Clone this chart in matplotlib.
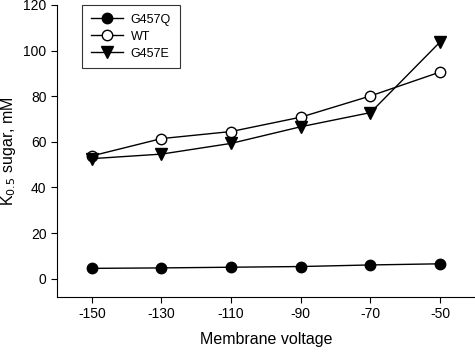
import matplotlib
matplotlib.use("Agg")
import matplotlib.pyplot as plt

plt.rcParams['font.family'] = ['Liberation Sans', 'DejaVu Sans']
plt.rcParams['axes.unicode_minus'] = False

voltage = [-150, -130, -110, -90, -70, -50]
g457q = [4.5, 4.7, 5.0, 5.3, 6.0, 6.5]
wt = [53.8, 61.4, 64.5, 70.8, 80.1, 90.6]
g457e = [52.6, 54.6, 59.3, 66.6, 72.8, 103.8]

fig = plt.figure(figsize=(4.75, 3.53), dpi=100)
ax = fig.add_axes([0.12, 0.159, 0.88, 0.827])

ax.plot(voltage, g457q, color='black', lw=1, marker='o', ms=7.5,
        mfc='black', mec='black', label='G457Q')
ax.plot(voltage, wt, color='black', lw=1, marker='o', ms=7.5,
        mfc='white', mec='black', label='WT')
ax.plot(voltage, g457e, color='black', lw=1, marker='v', ms=8,
        mfc='black', mec='black', label='G457E')

ax.set_xlim(-160, -40)
ax.set_ylim(-8, 120)
ax.set_xticks(voltage)
ax.set_yticks([0, 20, 40, 60, 80, 100, 120])
ax.spines['top'].set_visible(False)
ax.spines['right'].set_visible(False)
ax.tick_params(direction='out', length=4, labelsize=10)
ax.set_xlabel('Membrane voltage', fontsize=11.5, labelpad=8)
ax.set_ylabel('K$_{0.5}$ sugar, mM', fontsize=11.5)

leg = ax.legend(loc='upper left', bbox_to_anchor=(0.06, 1.0), fontsize=9,
                frameon=True, fancybox=False, edgecolor='black',
                handlelength=2.6, handletextpad=0.6, borderpad=0.7,
                labelspacing=0.4, borderaxespad=0)
leg.get_frame().set_linewidth(0.8)

fig.savefig('out.png', dpi=100)
